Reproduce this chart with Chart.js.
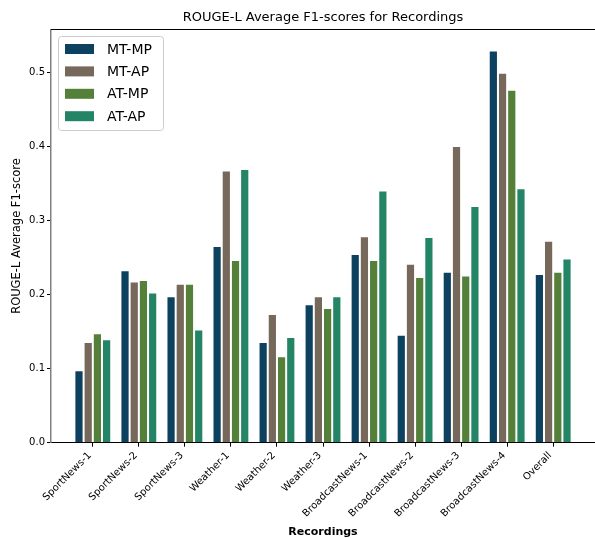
<!DOCTYPE html>
<html>
<head>
<meta charset="utf-8">
<script src="https://cdn.jsdelivr.net/npm/chart.js@4"></script>
<style>
  html, body { margin: 0; padding: 0; background: #fff; }
  #wrap { width: 595px; height: 538px; }
</style>
</head>
<body>
<div id="wrap"><canvas id="rougeChart" width="595" height="538"></canvas></div>
<script>
// Data
const recordings = ['SportNews-1', 'SportNews-2', 'SportNews-3', 'Weather-1', 'Weather-2', 'Weather-3',
    'BroadcastNews-1', 'BroadcastNews-2', 'BroadcastNews-3', 'BroadcastNews-4', 'Overall'];
const seriesNames = ['MT-MP', 'MT-AP', 'AT-MP', 'AT-AP'];
const mtMp = [0.098, 0.233, 0.198, 0.266, 0.136, 0.187, 0.255, 0.146, 0.231, 0.530, 0.228];
const mtAp = [0.136, 0.218, 0.215, 0.368, 0.174, 0.198, 0.279, 0.242, 0.401, 0.500, 0.273];
const atMp = [0.148, 0.220, 0.215, 0.247, 0.117, 0.182, 0.247, 0.224, 0.226, 0.477, 0.231];
const atAp = [0.140, 0.203, 0.153, 0.370, 0.143, 0.198, 0.341, 0.278, 0.320, 0.344, 0.249];
const yTicks = [0.0, 0.1, 0.2, 0.3, 0.4, 0.5];
const seriesColors = ['#0c4260', '#77685c', '#55803a', '#238466'];

const FONT = "'DejaVu Sans', Verdana, sans-serif";

const datasets = [mtMp, mtAp, atMp, atAp].map((values, i) => ({
    label: seriesNames[i],
    data: values.map((v, j) => ({ x: j, y: v })),
    backgroundColor: seriesColors[i],
    borderColor: 'rgba(255,255,255,0.75)',
    borderWidth: 1,
    borderSkipped: 'bottom',
    categoryPercentage: 0.8,
    barPercentage: 1.0
}));

// Title, top spine and legend box drawn on the canvas
const decorations = {
    id: 'decorations',
    afterDraw(chart) {
        const ctx = chart.ctx;
        const area = chart.chartArea;
        ctx.save();
        // top spine
        ctx.strokeStyle = '#000';
        ctx.lineWidth = 1;
        ctx.beginPath();
        ctx.moveTo(area.left, Math.round(area.top) + 0.5);
        ctx.lineTo(area.right, Math.round(area.top) + 0.5);
        ctx.stroke();

        // title
        ctx.fillStyle = '#000';
        ctx.font = '13px ' + FONT;
        ctx.textAlign = 'center';
        ctx.textBaseline = 'middle';
        ctx.fillText('ROUGE-L Average F1-scores for Recordings', (area.left + area.right) / 2, 18);

        // legend
        const lx = 58.5, ly = 36.5, lw = 105, lh = 94;
        ctx.fillStyle = 'rgba(255,255,255,0.8)';
        ctx.strokeStyle = '#cccccc';
        ctx.beginPath();
        ctx.roundRect(lx, ly, lw, lh, 3);
        ctx.fill();
        ctx.stroke();
        ctx.font = '14px ' + FONT;
        ctx.textAlign = 'left';
        seriesNames.forEach((name, i) => {
            const cy = 49 + i * 22.4;
            ctx.fillStyle = seriesColors[i];
            ctx.fillRect(65, cy - 5, 29, 10);
            ctx.fillStyle = '#000';
            ctx.fillText(name, 107, cy + 1);
        });
        ctx.restore();
    }
};

const ctx = document.getElementById('rougeChart').getContext('2d');
const rougeChart = new Chart(ctx, {
    type: 'bar',
    data: { datasets: datasets },
    options: {
        responsive: false,
        animation: false,
        layout: { padding: { top: 29.3, left: 0, right: 0, bottom: 0 } },
        plugins: {
            legend: { display: false },
            tooltip: { enabled: false }
        },
        scales: {
            x: {
                type: 'linear',
                offset: false,
                min: -0.908,
                max: 10.908,
                afterFit(scale) { scale.height = 95.3; },
                afterBuildTicks(scale) {
                    scale.ticks = recordings.map((r, i) => ({ value: i }));
                },
                ticks: {
                    autoSkip: false,
                    minRotation: 45,
                    maxRotation: 45,
                    padding: 3,
                    labelOffset: -3,
                    color: '#000',
                    font: { family: FONT, size: 10 },
                    callback: (v) => recordings[v] !== undefined ? recordings[v] : ''
                },
                grid: { offset: false, drawOnChartArea: false, drawTicks: true, tickLength: 4, color: '#000' },
                border: { display: true, color: '#000', width: 1 },
                title: {
                    display: true,
                    text: 'Recordings',
                    color: '#000',
                    font: { family: FONT, size: 11, weight: 'bold', lineHeight: 1.0 },
                    padding: { top: 0, bottom: 0 }
                }
            },
            y: {
                min: 0,
                max: 0.5588,
                afterFit(scale) { scale.width = 51; },
                afterBuildTicks(scale) {
                    scale.ticks = yTicks.map(v => ({ value: v }));
                },
                ticks: {
                    color: '#000',
                    padding: 2,
                    font: { family: FONT, size: 10 },
                    callback: (v) => v.toFixed(1)
                },
                grid: { drawOnChartArea: false, drawTicks: true, tickLength: 4, color: '#000' },
                border: { display: true, color: '#808080', width: 1.5 },
                title: {
                    display: true,
                    text: 'ROUGE-L Average F1-score',
                    color: '#000',
                    font: { family: FONT, size: 11.5 },
                    padding: { top: 10, bottom: 0 }
                }
            }
        }
    },
    plugins: [decorations]
});
</script>
</body>
</html>
